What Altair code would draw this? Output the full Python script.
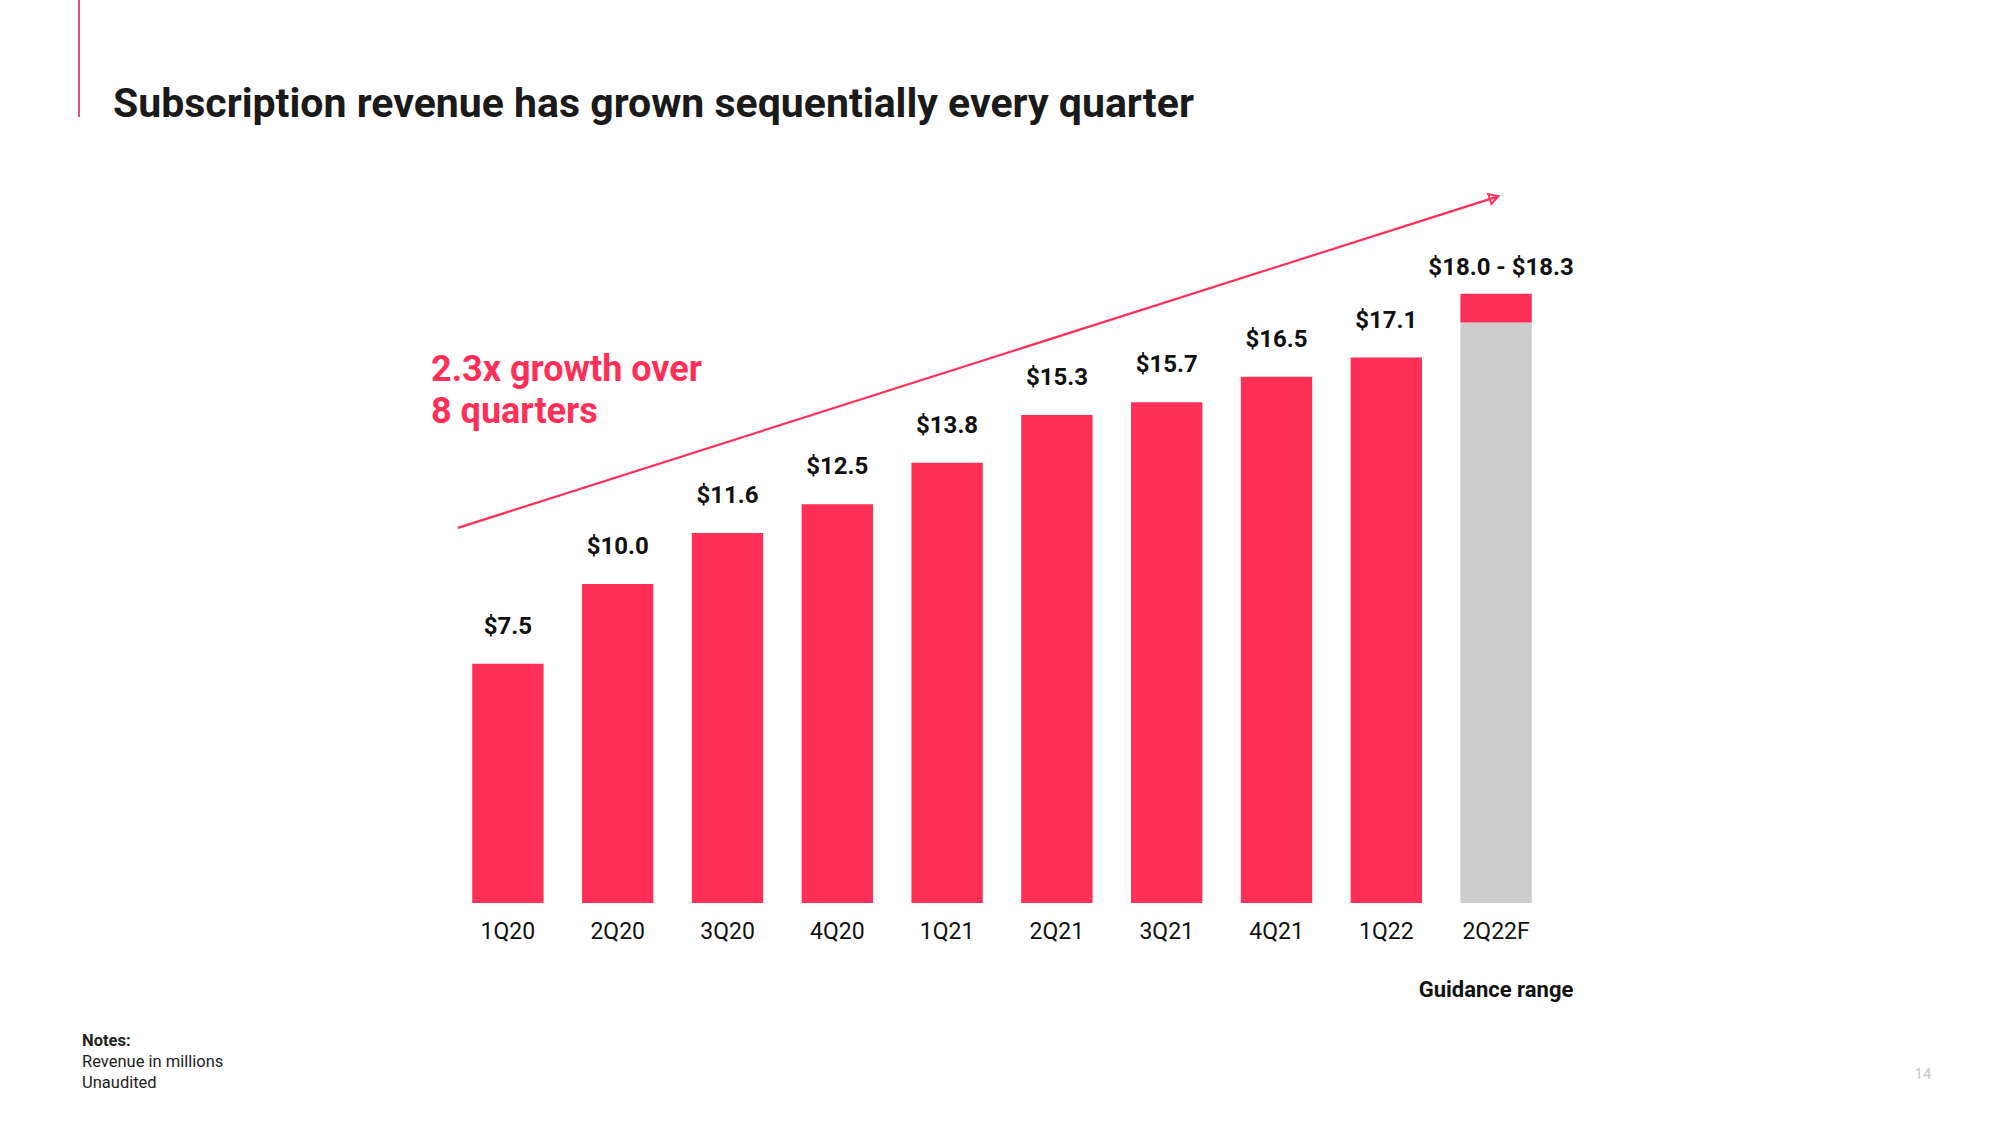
import altair as alt
import pandas as pd

# ---------------- data ----------------
quarters = ["1Q20", "2Q20", "3Q20", "4Q20", "1Q21", "2Q21", "3Q21", "4Q21", "1Q22", "2Q22F"]
revenue = [7.5, 10.0, 11.6, 12.5, 13.8, 15.3, 15.7, 16.5, 17.1]
value_labels = ["$7.5", "$10.0", "$11.6", "$12.5", "$13.8", "$15.3", "$15.7", "$16.5", "$17.1"]
guidance_label = "$18.0 - $18.3"
guidance_base_drawn = 18.2   # grey part top, as drawn
guidance_top_drawn = 19.1    # red range cap top, as drawn
arrow_start_value = 11.76
arrow_end_value = 22.16
growth_text = ["2.3x growth over", "8 quarters"]
title_text = "Subscription revenue has grown sequentially every quarter"
notes_title = "Notes:"
notes_lines = ["Revenue in millions", "Unaudited"]
page_number = "14"

RED = "#FF3057"
GREY = "#CCCCCC"
FONT = "Roboto"

actual = pd.DataFrame({"q": quarters[:9], "v": revenue, "label": value_labels})
guide = pd.DataFrame({"q": [quarters[9]], "base": [guidance_base_drawn],
                      "top": [guidance_top_drawn], "label": [guidance_label]})
arrow = pd.DataFrame({"q": [quarters[0]], "q2": [quarters[-1]],
                      "y1": [arrow_start_value], "y2": [arrow_end_value]})
one = pd.DataFrame({"a": [0]})

xs = alt.Scale(domain=quarters, paddingInner=0.35, paddingOuter=0.175)
ys = alt.Scale(domain=[0, 20])
xaxis = alt.Axis(title=None, labelAngle=0, ticks=False, tickSize=0, domain=False, grid=False,
                 labelPadding=28, labelFontSize=23, labelFont=FONT, labelColor="#111111",
                 labelBaseline="middle")
X = alt.X("q:N", sort=quarters, scale=xs, axis=xaxis)

bars = alt.Chart(actual).mark_bar(color=RED).encode(
    x=X, y=alt.Y("v:Q", scale=ys, axis=None))
bar_labels = alt.Chart(actual).mark_text(font=FONT, fontSize=24, fontWeight="bold",
                                         color="#111111", baseline="middle", dy=-37).encode(
    x=X, y=alt.Y("v:Q", scale=ys, axis=None), text="label:N")

guide_grey = alt.Chart(guide).mark_bar(color=GREY).encode(
    x=X, y=alt.Y("base:Q", scale=ys, axis=None))
guide_red = alt.Chart(guide).mark_bar(color=RED).encode(
    x=X, y=alt.Y("base:Q", scale=ys, axis=None), y2="top:Q")
guide_label = alt.Chart(guide).mark_text(font=FONT, fontSize=24, fontWeight="bold",
                                         color="#111111", baseline="middle", dy=-26, dx=5).encode(
    x=X, y=alt.Y("top:Q", scale=ys, axis=None), text="label:N")

arrow_line = alt.Chart(arrow).mark_rule(color=RED, strokeWidth=2.2, xOffset=-50, x2Offset=3).encode(
    x=X, x2="q2:N", y=alt.Y("y1:Q", scale=ys, axis=None), y2="y2:Q")
arrow_head = alt.Chart(arrow).mark_point(shape="triangle-right", filled=False, color=RED,
                                         strokeWidth=2, size=110, angle=342.3,
                                         xOffset=-2, yOffset=1.5, opacity=1).encode(
    x=alt.X("q2:N", sort=quarters, scale=xs, axis=xaxis), y=alt.Y("y2:Q", scale=ys, axis=None))

# ---------------- annotations (plot origin at page 453,265) ----------------
title = alt.Chart(one).mark_text(text=title_text, font=FONT, fontSize=41, fontWeight="bold",
                                 color="#1a1a1a", align="left", baseline="alphabetic").encode(
    x=alt.value(-340), y=alt.value(-148))
corner = alt.Chart(one).mark_rule(color="#E0507A", strokeWidth=2).encode(
    x=alt.value(-374), y=alt.value(-265), y2=alt.value(-148))
growth = alt.Chart(one).mark_text(text=growth_text, font=FONT, fontSize=36, fontWeight="bold",
                                  color=RED, align="left", baseline="alphabetic", lineHeight=42).encode(
    x=alt.value(-22), y=alt.value(116))
guidance_range = alt.Chart(one).mark_text(text="Guidance range", font=FONT, fontSize=22,
                                          fontWeight="bold", color="#111111", baseline="middle").encode(
    x=alt.value(1043), y=alt.value(725))
notes_a = alt.Chart(one).mark_text(text=notes_title, font=FONT, fontSize=16.5, fontWeight="bold",
                                   color="#222222", align="left", baseline="middle").encode(
    x=alt.value(-371), y=alt.value(776))
notes_b = alt.Chart(one).mark_text(text=notes_lines, font=FONT, fontSize=16.5,
                                   color="#222222", align="left", baseline="middle", lineHeight=21).encode(
    x=alt.value(-371), y=alt.value(797))
page = alt.Chart(one).mark_text(text=page_number, font=FONT, fontSize=15,
                                color="#C8C8C8", baseline="middle").encode(
    x=alt.value(1470), y=alt.value(809))

chart = alt.layer(
    bars, bar_labels, guide_grey, guide_red, guide_label, arrow_line, arrow_head,
    title, corner, growth, guidance_range, notes_a, notes_b, page
).properties(
    width=1098, height=638,
    padding={"left": 453, "top": 265, "right": 449, "bottom": 222},
    autosize=alt.AutoSizeParams(type="none"),
    background="white",
).configure_view(stroke=None)

chart.save("out.html", embed_options={"renderer": "svg", "actions": False})
